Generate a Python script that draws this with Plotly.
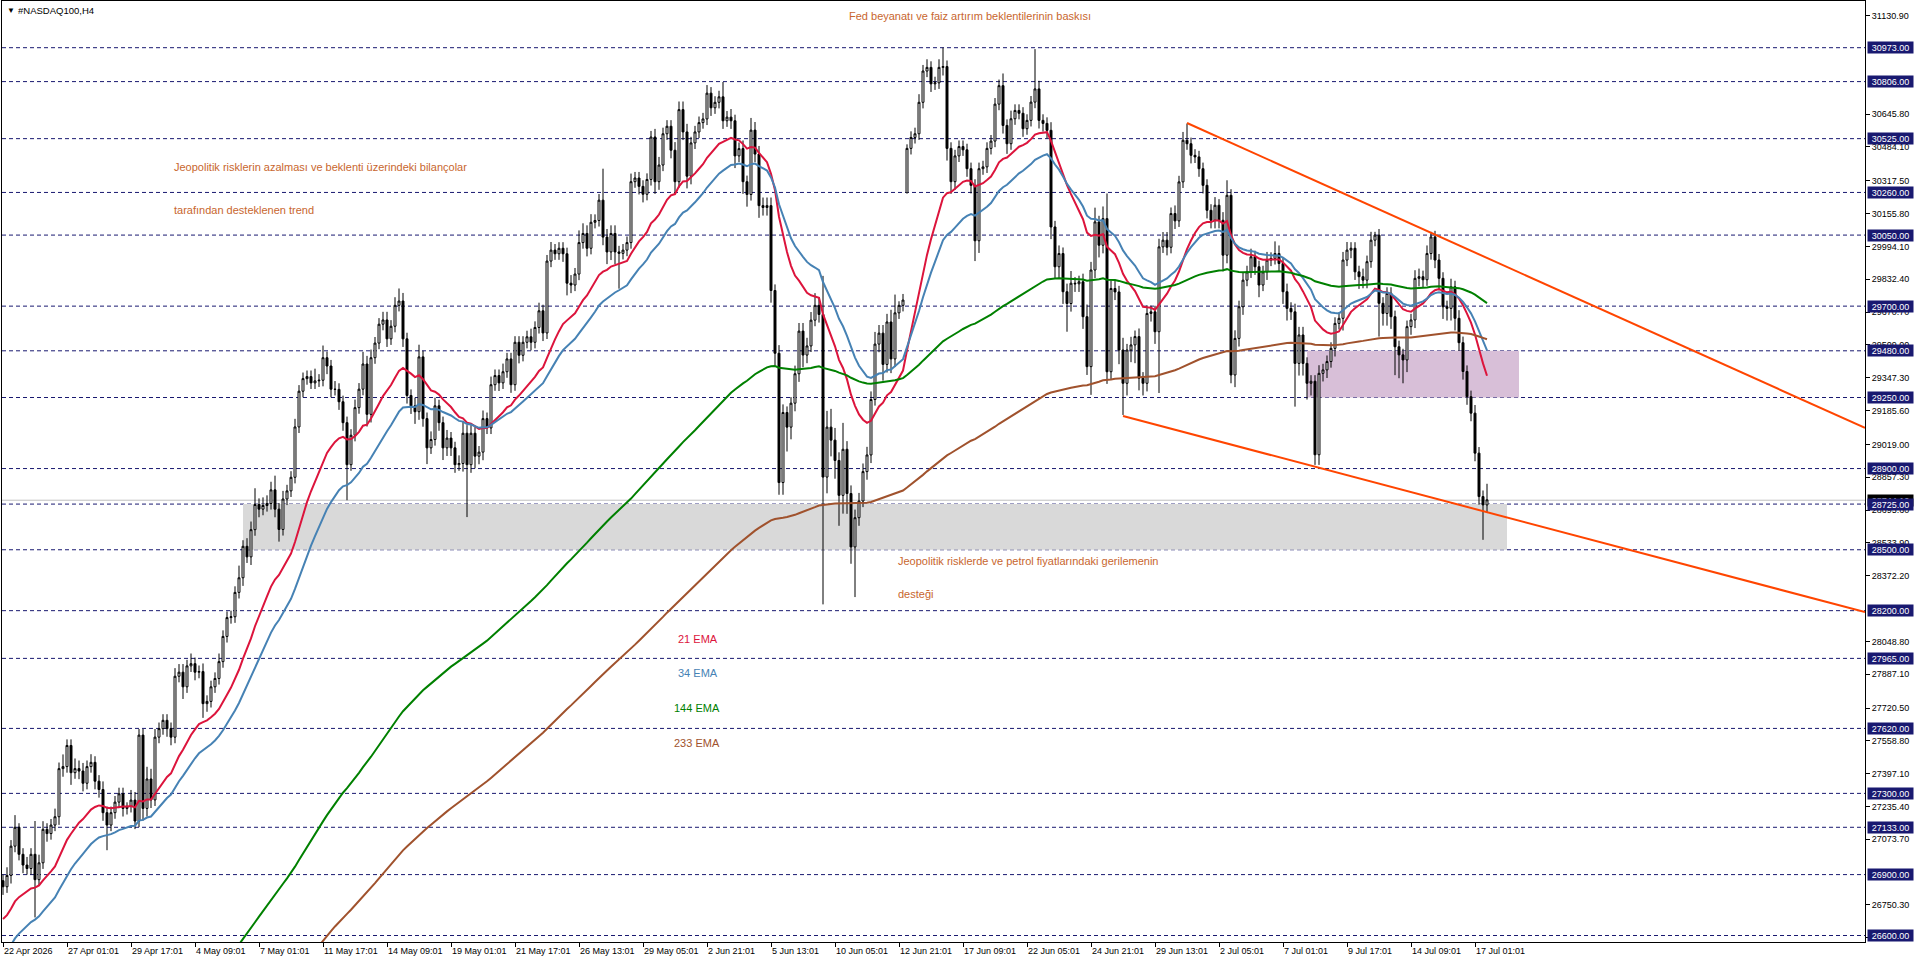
import plotly.graph_objects as go

TITLE = "#NASDAQ100,H4"

# ---- time axis labels (one label every 16 H4 bars) ----
XLABELS = ["22 Apr 2026", "27 Apr 01:01", "29 Apr 17:01", "4 May 09:01", "7 May 01:01",
           "11 May 17:01", "14 May 09:01", "19 May 01:01", "21 May 17:01", "26 May 13:01",
           "29 May 05:01", "2 Jun 21:01", "5 Jun 13:01", "10 Jun 05:01", "12 Jun 21:01",
           "17 Jun 09:01", "22 Jun 05:01", "24 Jun 21:01", "29 Jun 13:01", "2 Jul 05:01",
           "7 Jul 01:01", "9 Jul 17:01", "14 Jul 09:01", "17 Jul 01:01"]
XLABEL_STEP = 16

# ---- candle data (H4 closes, wick lengths in points) ----
FIRST_OPEN = 26870
OPEN_GAPS = {226: 30258}
CLOSE = [
    26840, 26896, 27040, 27133, 27000, 26947, 26930, 27000, 26875, 26958,
    27123, 27102, 27144, 27185, 27422, 27432, 27536, 27402, 27422, 27410,
    27350, 27432, 27453, 27360, 27319, 27205, 27144, 27205, 27257, 27298,
    27226, 27236, 27267, 27164, 27587, 27226, 27371, 27268, 27577, 27619,
    27660, 27619, 27577, 27877, 27897, 27825, 27928, 27939, 27897, 27900,
    27742, 27753, 27825, 27866, 27949, 28073, 28166, 28170, 28290, 28362,
    28517, 28465, 28599, 28723, 28700, 28718, 28728, 28795, 28700, 28600,
    28750, 28790, 28857, 29105, 29281, 29343, 29353, 29322, 29332, 29335,
    29446, 29405, 29291, 29290, 29229, 29126, 28919, 29064, 29200, 29291,
    29415, 29167, 29446, 29518, 29611, 29632, 29539, 29601, 29704, 29725,
    29539, 29260, 29209, 29180, 29450, 29146, 29002, 29043, 29209, 29126,
    29002, 29050, 29002, 28919, 28925, 29074, 28919, 29074, 28961, 28981,
    29146, 29100, 29313, 29358, 29322, 29377, 29440, 29313, 29522, 29458,
    29522, 29549, 29522, 29595, 29677, 29568, 29922, 29976, 29958, 29985,
    29958, 29813, 29804, 29858, 30013, 30058, 29985, 30113, 30122, 30222,
    30040, 29967, 30058, 29967, 29960, 29976, 30013, 30313, 30331, 30290,
    30251, 30324, 30533, 30313, 30395, 30549, 30586, 30468, 30313, 30668,
    30558, 30340, 30504, 30558, 30604, 30622, 30749, 30677, 30704, 30731,
    30613, 30631, 30613, 30440, 30476, 30313, 30250, 30567, 30449, 30195,
    30186, 30195, 29777, 29468, 28831, 29176, 29104, 29222, 29367, 29577,
    29459, 29504, 29631, 29704, 29659, 28858, 29104, 29040, 28940, 28768,
    28995, 28777, 28514, 28658, 28740, 28885, 28967, 29240, 29513, 29567,
    29413, 29622, 29440, 29667, 29704, 29730, 30477, 30531, 30549, 30704,
    30858, 30876, 30795, 30800, 30876, 30880, 30477, 30313, 30440, 30486,
    30470, 30377, 30295, 30022, 30377, 30386, 30477, 30513, 30695, 30786,
    30590, 30500, 30623, 30664, 30650, 30574, 30615, 30705, 30770, 30615,
    30600, 30566, 30090, 29894, 29959, 29771, 29713, 29813, 29810, 29820,
    29648, 29402, 29878, 30115, 30000, 30131, 29377, 29787, 29770, 29484,
    29320, 29484, 29509, 29550, 29345, 29320, 29664, 29672, 29574, 29992,
    30025, 29990, 30156, 30120, 30312, 30517, 30500, 30443, 30435, 30377,
    30295, 30172, 30123, 30197, 30123, 29951, 30246, 29361, 29541, 29697,
    29828, 29869, 29943, 29894, 29804, 29869, 29927, 29935, 29959, 29910,
    29771, 29689, 29672, 29418, 29558, 29418, 29320, 29330, 28968, 29369,
    29386, 29427, 29492, 29615, 29640, 29927, 29976, 29985, 29869, 29845,
    29828, 29919, 30025, 30050, 29714, 29664, 29763, 29648, 29500, 29460,
    29435, 29599, 29632, 29837, 29845, 29830, 29959, 30041, 29927, 29837,
    29697, 29689, 29795, 29640, 29520, 29378, 29254, 29173, 28976, 28762,
    28721, 28746]
UP_WICK = [
    30, 40, 30, 60, 20, 30, 40, 30, 164, 40,
    40, 30, 30, 40, 30, 60, 30, 30, 50, 40,
    40, 30, 40, 30, 30, 40, 30, 30, 30, 30,
    30, 20, 50, 40, 30, 30, 60, 50, 40, 30,
    30, 30, 30, 40, 40, 40, 30, 50, 30, 30,
    40, 30, 30, 30, 40, 30, 30, 30, 30, 60,
    30, 40, 40, 80, 30, 40, 40, 40, 70, 30,
    40, 30, 30, 40, 30, 30, 30, 30, 60, 30,
    60, 30, 30, 40, 30, 30, 30, 30, 40, 30,
    60, 40, 40, 30, 30, 40, 40, 30, 40, 62,
    40, 30, 30, 40, 60, 30, 30, 40, 40, 30,
    30, 40, 30, 30, 40, 60, 40, 40, 30, 30,
    40, 30, 40, 30, 30, 40, 30, 30, 30, 30,
    30, 30, 40, 30, 40, 30, 30, 40, 30, 30,
    30, 30, 40, 30, 60, 50, 40, 40, 30, 30,
    155, 40, 40, 40, 30, 30, 30, 40, 30, 30,
    30, 30, 30, 40, 40, 30, 30, 30, 40, 40,
    40, 40, 30, 30, 30, 30, 40, 30, 30, 30,
    73, 30, 40, 30, 30, 40, 30, 60, 40, 40,
    40, 40, 40, 30, 40, 40, 30, 30, 40, 40,
    40, 40, 40, 60, 40, 190, 80, 90, 60, 40,
    130, 40, 40, 40, 40, 40, 40, 40, 60, 40,
    40, 40, 60, 90, 20, 30, 20, 30, 30, 40,
    30, 40, 30, 30, 40, 93, 30, 30, 30, 30,
    30, 30, 30, 30, 30, 30, 30, 30, 30, 30,
    60, 30, 40, 30, 30, 30, 30, 30, 196, 40,
    30, 30, 40, 30, 40, 30, 40, 60, 30, 30,
    40, 60, 40, 70, 30, 60, 124, 40, 40, 30,
    60, 30, 40, 30, 40, 30, 40, 30, 30, 40,
    40, 40, 30, 40, 30, 41, 82, 30, 30, 30,
    30, 30, 30, 40, 30, 40, 74, 30, 40, 30,
    40, 30, 40, 30, 30, 30, 40, 30, 60, 40,
    30, 40, 30, 40, 40, 40, 30, 30, 30, 40,
    30, 30, 30, 30, 30, 40, 40, 30, 30, 30,
    40, 30, 41, 16, 30, 30, 30, 30, 30, 30,
    30, 30, 30, 40, 40, 30, 40, 25, 30, 30,
    30, 30, 40, 30, 40, 30, 30, 30, 40, 30,
    30, 79]
DN_WICK = [
    40, 30, 40, 30, 30, 40, 30, 30, 186, 30,
    30, 40, 30, 30, 40, 40, 30, 60, 30, 40,
    40, 30, 30, 40, 40, 40, 124, 30, 30, 30,
    40, 30, 30, 40, 30, 60, 40, 40, 30, 30,
    30, 40, 40, 30, 30, 60, 30, 30, 40, 30,
    70, 40, 30, 30, 30, 30, 30, 30, 30, 30,
    40, 30, 40, 30, 40, 30, 30, 30, 40, 60,
    30, 30, 30, 30, 30, 30, 30, 30, 30, 30,
    30, 40, 40, 30, 40, 40, 175, 30, 30, 30,
    30, 60, 40, 30, 30, 30, 40, 30, 30, 30,
    40, 40, 40, 60, 40, 40, 80, 30, 30, 40,
    60, 40, 40, 40, 30, 40, 258, 40, 60, 40,
    40, 30, 30, 30, 40, 30, 30, 40, 30, 40,
    30, 30, 40, 30, 30, 40, 30, 30, 30, 30,
    40, 60, 40, 30, 30, 30, 40, 30, 30, 30,
    40, 60, 40, 60, 174, 30, 30, 30, 30, 40,
    40, 30, 30, 60, 40, 30, 30, 40, 60, 30,
    40, 60, 40, 30, 30, 30, 30, 40, 30, 30,
    40, 30, 40, 60, 30, 60, 60, 30, 40, 60,
    40, 40, 60, 60, 60, 60, 120, 60, 40, 40,
    60, 40, 30, 30, 40, 627, 80, 80, 90, 150,
    90, 100, 83, 247, 40, 30, 40, 40, 30, 40,
    80, 40, 70, 40, 30, 30, 0, 30, 30, 30,
    30, 30, 40, 30, 30, 40, 60, 60, 40, 30,
    30, 40, 40, 100, 60, 30, 30, 30, 30, 30,
    40, 50, 30, 30, 30, 40, 30, 30, 30, 40,
    40, 40, 60, 60, 60, 60, 139, 40, 40, 40,
    60, 41, 139, 40, 60, 40, 60, 40, 40, 70,
    156, 60, 60, 90, 60, 60, 40, 40, 60, 302,
    30, 40, 30, 40, 30, 30, 30, 40, 30, 40,
    40, 40, 40, 40, 40, 80, 40, 41, 60, 40,
    40, 30, 30, 40, 60, 30, 40, 30, 30, 40,
    60, 60, 40, 213, 60, 60, 80, 60, 50, 50,
    40, 40, 30, 40, 30, 60, 30, 40, 40, 60,
    40, 40, 30, 30, 164, 60, 60, 60, 140, 115,
    115, 60, 40, 40, 40, 40, 30, 30, 40, 60,
    60, 60, 60, 60, 40, 40, 40, 40, 40, 40,
    172, 40]

# ---- indicators ----
EMA_PERIODS = [21, 34, 144, 233]
EMA_SEEDS = [26665, 26480, 25270, 25160]   # indicator values just before the first visible bar
EMA_LABELS = ["21 EMA", "34 EMA", "144 EMA", "233 EMA"]

# ---- drawn objects ----
LEVELS = [30973, 30806, 30525, 30260, 30050, 29700, 29480, 29250, 28900, 28725,
          28500, 28200, 27965, 27620, 27300, 27133, 26900, 26600]
YTICKS = [31130.9, 30645.8, 30484.1, 30317.5, 30155.8, 29994.1,
          29832.4, 29670.7, 29509.0, 29347.3, 29185.6, 29019.0, 28857.3, 28695.6,
          28533.9, 28372.2, 28048.8, 27887.1, 27720.5, 27558.8, 27397.1,
          27235.4, 27073.7, 26750.3, 26588.6]
CURRENT_PRICE = 28744.1
ZONE_BARS = [(60, 376), (326, 379)]
ZONE_PRICES = [(28500, 28725), (29250, 29480)]
TREND_BARS = [(296, 465.5), (280, 465.5)]
TREND_PRICES = [(30602, 29100), (29159, 28193)]

NOTES = ["Fed beyanatı ve faiz artırım beklentilerinin baskısı",
         "Jeopolitik risklerin azalması ve beklenti üzerindeki bilançolar",
         "tarafından desteklenen trend",
         "Jeopolitik risklerde ve petrol fiyatlarındaki gerilemenin",
         "desteği"]
NOTE_BARS = [211, 42.3, 42.3, 223.3, 223.3]
NOTE_PRICES = [31129, 30385, 30174, 28445, 28282]
EMA_LABEL_BARS = [168.3, 168.3, 167.3, 167.3]
EMA_LABEL_PRICES = [28061, 27894, 27722, 27550]

# ---------------- build ----------------
n = min(len(CLOSE), len(UP_WICK), len(DN_WICK))
bars = list(range(n))
opens = []
prev = FIRST_OPEN
for i in range(n):
    o = OPEN_GAPS.get(i, prev if i > 0 else FIRST_OPEN)
    opens.append(o)
    prev = CLOSE[i]
highs = [max(opens[i], CLOSE[i]) + UP_WICK[i] for i in range(n)]
lows = [min(opens[i], CLOSE[i]) - DN_WICK[i] for i in range(n)]


def ema(vals, period, seed):
    a = 2.0 / (period + 1)
    e = seed
    out = []
    for v in vals:
        e += a * (v - e)
        out.append(e)
    return out


EMA_COLORS = ["#DC143C", "#4682B4", "#008000", "#A0522D"]
NOTE_COLOR = "#C8662E"
LEVEL_COLOR = "#191970"
FONT = "Liberation Sans, Arial, sans-serif"

fig = go.Figure()

fig.add_trace(go.Candlestick(
    x=bars, open=opens, high=highs, low=lows, close=CLOSE[:n],
    increasing=dict(line=dict(color="black", width=1), fillcolor="white"),
    decreasing=dict(line=dict(color="black", width=1), fillcolor="black"),
    whiskerwidth=0, hoverinfo="skip", showlegend=False))

for p, s, c in zip(EMA_PERIODS, EMA_SEEDS, EMA_COLORS):
    fig.add_trace(go.Scatter(x=bars, y=ema(CLOSE[:n], p, s), mode="lines",
                             line=dict(color=c, width=2), hoverinfo="skip", showlegend=False))

for (b0, b1), (p0, p1) in zip(TREND_BARS, TREND_PRICES):
    fig.add_trace(go.Scatter(x=[b0, b1], y=[p0, p1], mode="lines",
                             line=dict(color="#FF4500", width=2), hoverinfo="skip",
                             showlegend=False, cliponaxis=True))

shapes = []
zone_colors = ["#D9D9D9", "#D8BFD8"]
for (b0, b1), (p0, p1), col in zip(ZONE_BARS, ZONE_PRICES, zone_colors):
    shapes.append(dict(type="rect", xref="x", yref="y", x0=b0, x1=b1, y0=p0, y1=p1,
                       fillcolor=col, line=dict(width=0), layer="below"))
shapes.append(dict(type="line", xref="paper", yref="y", x0=0, x1=1, y0=CURRENT_PRICE,
                   y1=CURRENT_PRICE, line=dict(color="#C0C0C0", width=1), layer="below"))
for lv in LEVELS:
    shapes.append(dict(type="line", xref="paper", yref="y", x0=0, x1=1, y0=lv, y1=lv,
                       line=dict(color=LEVEL_COLOR, width=1, dash="4px,3px"), layer="below"))

ann = []
ann.append(dict(xref="paper", yref="y", x=1, y=CURRENT_PRICE, xanchor="left", yanchor="middle",
                xshift=2, text=f"{CURRENT_PRICE:.2f}", showarrow=False, bgcolor="black",
                font=dict(color="white", size=9, family=FONT), borderpad=1, width=43, height=9))
for lv in LEVELS:
    ann.append(dict(xref="paper", yref="y", x=1, y=lv, xanchor="left", yanchor="middle",
                    xshift=2, text=f"{lv:.2f}", showarrow=False, bgcolor=LEVEL_COLOR,
                    font=dict(color="white", size=9, family=FONT), borderpad=1,
                    width=43, height=9))
for t, b, p in zip(NOTES, NOTE_BARS, NOTE_PRICES):
    ann.append(dict(xref="x", yref="y", x=b, y=p, xanchor="left", yanchor="middle",
                    text=t, showarrow=False, font=dict(color=NOTE_COLOR, size=11, family=FONT)))
for t, b, p, c in zip(EMA_LABELS, EMA_LABEL_BARS, EMA_LABEL_PRICES, EMA_COLORS):
    ann.append(dict(xref="x", yref="y", x=b, y=p, xanchor="left", yanchor="middle",
                    text=t, showarrow=False, font=dict(color=c, size=11, family=FONT)))
ann.append(dict(xref="paper", yref="paper", x=0, y=1, xanchor="left", yanchor="top",
                xshift=3, yshift=-3, text="▼", showarrow=False,
                font=dict(color="black", size=8, family=FONT)))
ann.append(dict(xref="paper", yref="paper", x=0, y=1, xanchor="left", yanchor="top",
                xshift=14, yshift=-2, text=TITLE, showarrow=False,
                font=dict(color="black", size=9.5, family=FONT)))

fig.update_layout(
    width=1916, height=963,
    margin=dict(l=2, r=51, t=1, b=21),
    paper_bgcolor="white", plot_bgcolor="white",
    showlegend=False, shapes=shapes, annotations=ann,
    font=dict(family=FONT, size=9, color="black"),
    xaxis=dict(range=[-0.25, 465.5], tickvals=[i * XLABEL_STEP for i in range(len(XLABELS))],
               ticktext=XLABELS, ticks="outside", ticklen=4, tickcolor="black",
               ticklabelposition="outside right",
               showgrid=False, zeroline=False, showline=True, linecolor="black",
               linewidth=1, mirror=True, rangeslider=dict(visible=False), fixedrange=True),
    yaxis=dict(range=[26568, 31203], side="right", tickvals=YTICKS,
               ticktext=[f"{v:.2f}" for v in YTICKS], ticks="outside", ticklen=4,
               tickcolor="black", showgrid=False, zeroline=False, showline=True,
               linecolor="black", linewidth=1, mirror=True, fixedrange=True),
)

fig.write_html("out.html")
